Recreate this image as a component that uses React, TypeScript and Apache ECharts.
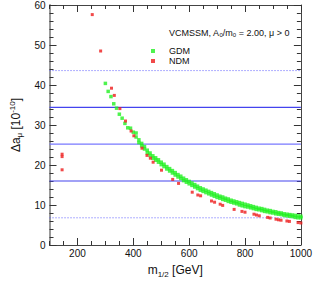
import React, { useEffect, useRef } from 'react';
import * as echarts from 'echarts';

// GDM (green) points: m_1/2 [GeV] and Δa_μ [1e-10]
const gdmM = [
  300, 310, 320, 330, 340, 350, 360, 370, 380, 390, 400,
  410, 410, 420, 420, 430, 430, 440, 440, 450, 450, 460, 460, 470, 470, 480, 480, 490, 490,
  500, 500, 510, 510, 520, 520, 530, 530, 540, 540, 550, 550, 560, 560, 570, 570, 580, 580, 590, 590,
  600, 600, 610, 610, 620, 620, 630, 630, 640, 640, 650, 650, 660, 660, 670, 670, 680, 680, 690, 690,
  700, 700, 710, 710, 720, 720, 730, 730, 740, 740, 750, 750, 760, 760, 770, 770, 780, 780, 790, 790,
  800, 800, 810, 810, 820, 820, 830, 830, 840, 840, 850, 850, 860, 860, 870, 870, 880, 880, 890, 890,
  900, 900, 910, 910, 920, 920, 930, 930, 940, 940, 950, 950, 960, 960, 970, 970, 980, 980, 990, 990,
  1000, 1000,
];
const gdmA = [
  40.4, 38.4, 37.1, 35.3, 34.2, 32.7, 31.7, 30.4, 29.3, 29.2, 28.2,
  28.0, 27.0, 26.3, 25.6, 25.4, 24.8, 24.6, 24.0, 23.7, 23.0, 23.0, 22.4, 22.3, 21.7, 21.8, 21.2, 21.3, 20.7,
  20.7, 20.1, 20.2, 19.6, 19.6, 19.0, 19.1, 18.5, 18.6, 18.0, 18.1, 17.5, 17.6, 17.0, 17.2, 16.6, 16.7, 16.1, 16.3, 15.7,
  15.9, 15.3, 15.5, 14.9, 15.1, 14.5, 14.7, 14.1, 14.3, 13.7, 14.0, 13.4, 13.7, 13.1, 13.4, 12.8, 13.1, 12.5, 12.8, 12.2,
  12.5, 11.9, 12.2, 11.7, 12.0, 11.4, 11.7, 11.2, 11.5, 10.9, 11.2, 10.7, 11.0, 10.5, 10.8, 10.3, 10.6, 10.0, 10.4, 9.8,
  10.2, 9.6, 10.0, 9.5, 9.8, 9.3, 9.6, 9.1, 9.4, 8.9, 9.2, 8.8, 9.1, 8.6, 8.9, 8.4, 8.7, 8.3, 8.6, 8.1,
  8.4, 8.0, 8.3, 7.8, 8.1, 7.7, 8.0, 7.6, 7.8, 7.4, 7.7, 7.3, 7.6, 7.2, 7.5, 7.1, 7.4, 6.9, 7.3, 6.8,
  7.2, 6.8,
];

// NDM (red) points
const ndmM = [
  145, 145, 145, 253, 283, 322, 332, 352, 372, 392, 402, 431, 449, 461, 471, 501,
  541, 562, 611, 631, 641, 680, 691, 711, 720, 761, 789, 800, 832, 841, 851,
  881, 890, 911, 920, 929, 950, 959, 990, 1000,
];
const ndmA = [
  22.7, 22.1, 18.8, 57.6, 48.5, 39.2, 37.4, 34.1, 31.0, 28.5, 27.3, 24.2, 22.4, 21.7, 20.7, 18.7,
  16.4, 15.4, 13.2, 12.5, 12.3, 11.0, 10.7, 10.2, 9.9, 8.9, 8.4, 8.2, 7.7, 7.5, 7.3,
  6.9, 6.75, 6.45, 6.3, 6.2, 6.0, 5.9, 5.6, 5.5,
];

// g-2 band: central value, ±1σ (solid), ±2σ (dotted)
const bandValues = [6.8, 16.0, 25.2, 34.4, 43.6];
const bandKinds = ['2s', '1s', 'c', '1s', '2s'];
const xRange = [100, 1000];

const xMajorTicks = [200, 400, 600, 800, 1000];
const xMinorTicks = [100, 150, 250, 300, 350, 450, 500, 550, 650, 700, 750, 850, 900, 950];

const FONT = '"Liberation Sans", Arial, Helvetica, sans-serif';

export default function App() {
  const ref = useRef<HTMLDivElement>(null);
  useEffect(() => {
    if (!ref.current) return;
    const chart = echarts.init(ref.current, undefined, { renderer: 'svg' });

    const axisLineDark = { show: true, lineStyle: { color: '#444', width: 1 } };
    const tickStyle = { color: '#333', width: 1 };

    const xBase = { type: 'value', min: xRange[0], max: xRange[1], splitLine: { show: false } };

    const bandSeries = bandValues.map((v, i) => {
      const k = bandKinds[i];
      const lineStyle =
        k === '2s'
          ? { color: '#5c5cff', width: 1, type: [1, 2] }
          : k === 'c'
          ? { color: '#7878ff', width: 1.2, type: 'solid' }
          : { color: '#4444ee', width: 1.2, type: 'solid' };
      return {
        name: 'band' + i,
        type: 'line',
        xAxisIndex: 0,
        yAxisIndex: 0,
        z: 1,
        silent: true,
        symbol: 'none',
        lineStyle,
        itemStyle: { color: lineStyle.color },
        data: xRange.map((x) => [x, v]),
      };
    });

    const option: any = {
      animation: false,
      backgroundColor: '#fff',
      textStyle: { fontFamily: FONT },
      grid: { left: 35, right: 11, top: 5, bottom: 27, containLabel: false },
      title: {
        left: 164,
        top: 23,
        text: '{n|VCMSSM, A}{s|0}{n|/m}{s|0}{n| = 2.00, μ > 0}',
        textStyle: {
          fontFamily: FONT,
          fontWeight: 'normal',
          rich: {
            n: { fontSize: 9, color: '#111', fontFamily: FONT, fontWeight: 'normal' },
            s: { fontSize: 6, color: '#111', fontFamily: FONT, fontWeight: 'normal', verticalAlign: 'bottom', padding: [4, 0, 0, 0] },
          },
        },
      },
      legend: {
        orient: 'vertical',
        left: 148,
        top: 43,
        itemWidth: 4,
        itemHeight: 4,
        itemGap: 0,
        icon: 'rect',
        padding: 3,
        textStyle: { fontSize: 9, color: '#111', fontFamily: FONT, padding: [0, 0, 0, 9], lineHeight: 10 },
        data: ['GDM', 'NDM'],
      },
      xAxis: [
        {
          ...xBase,
          position: 'bottom',
          axisLine: axisLineDark,
          axisTick: { show: true, inside: true, length: 7, customValues: xMajorTicks, lineStyle: tickStyle },
          axisLabel: {
            customValues: xMajorTicks,
            fontSize: 10,
            color: '#111',
            margin: 3,
            fontFamily: FONT,
            formatter: (v: number) => String(v),
          },
          name: '{n|m}{s|1/2}{n| [GeV]}',
          nameLocation: 'middle',
          nameGap: 17,
          nameTextStyle: {
            rich: {
              n: { fontSize: 12, color: '#111', fontFamily: FONT },
              s: { fontSize: 8, color: '#111', fontFamily: FONT, padding: [8, 0, 0, 0] },
            },
          },
        },
        {
          ...xBase,
          position: 'bottom',
          axisLine: { show: false },
          axisTick: { show: true, inside: true, length: 4, customValues: xMinorTicks, lineStyle: tickStyle },
          axisLabel: { show: false },
        },
        {
          ...xBase,
          position: 'top',
          axisLine: axisLineDark,
          axisTick: { show: true, inside: true, length: 7, customValues: xMajorTicks, lineStyle: tickStyle },
          axisLabel: { show: false },
        },
        {
          ...xBase,
          position: 'top',
          axisLine: { show: false },
          axisTick: { show: true, inside: true, length: 4, customValues: xMinorTicks, lineStyle: tickStyle },
          axisLabel: { show: false },
        },
      ],
      yAxis: [
        {
          type: 'value',
          min: 0,
          max: 60,
          interval: 10,
          position: 'left',
          splitLine: { show: false },
          axisLine: { show: true, lineStyle: { color: '#9a9a9a', width: 2 } },
          axisTick: { show: true, inside: true, length: 7, lineStyle: tickStyle },
          minorTick: { show: true, splitNumber: 5, length: 4, lineStyle: tickStyle },
          axisLabel: { fontSize: 10, color: '#111', margin: 4, fontFamily: FONT },
          name: '{n|Δa}{s|μ}{n| [10}{p|-10}{n|]}',
          nameLocation: 'middle',
          nameGap: 18,
          nameTextStyle: {
            rich: {
              n: { fontSize: 12, color: '#111', fontFamily: FONT },
              s: { fontSize: 8, color: '#111', fontFamily: FONT, padding: [8, 0, 0, 0] },
              p: { fontSize: 8, color: '#111', fontFamily: FONT, padding: [0, 0, 7, 0] },
            },
          },
        },
        {
          type: 'value',
          min: 0,
          max: 60,
          interval: 10,
          position: 'right',
          splitLine: { show: false },
          axisLine: axisLineDark,
          axisTick: { show: true, inside: true, length: 7, lineStyle: tickStyle },
          minorTick: { show: true, splitNumber: 5, length: 4, lineStyle: tickStyle },
          axisLabel: { show: false },
        },
      ],
      series: [
        ...bandSeries,
        {
          name: 'GDM',
          type: 'scatter',
          xAxisIndex: 0,
          yAxisIndex: 0,
          z: 3,
          symbol: 'rect',
          symbolSize: 3.5,
          itemStyle: { color: '#22f022' },
          data: gdmM.map((m, i) => [m, gdmA[i]]),
        },
        {
          name: 'NDM',
          type: 'scatter',
          xAxisIndex: 0,
          yAxisIndex: 0,
          z: 4,
          symbol: 'rect',
          symbolSize: 3,
          itemStyle: { color: '#ee1c1c' },
          data: ndmM.map((m, i) => [m, ndmA[i]]),
        },
      ],
    };

    chart.setOption(option);
    return () => chart.dispose();
  }, []);

  return <div ref={ref} style={{ width: 315, height: 283, position: 'absolute', left: 0, top: 0 }} />;
}
